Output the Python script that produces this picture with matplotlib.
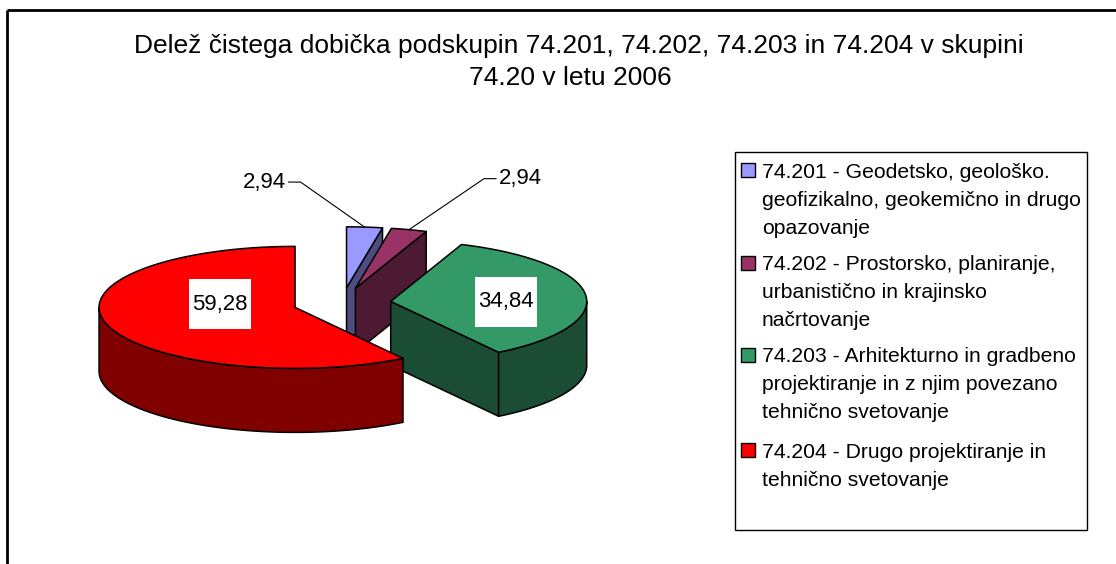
import numpy as np
import matplotlib
matplotlib.use("Agg")
import matplotlib.pyplot as plt
from matplotlib.patches import Polygon, Rectangle
from matplotlib.colors import to_rgb

plt.rcParams['font.family'] = ['Liberation Sans', 'DejaVu Sans']

# ---------------- data ----------------
title_lines = ["Delež čistega dobička podskupin 74.201, 74.202, 74.203 in 74.204 v skupini",
               "74.20 v letu 2006"]
values = [2.94, 2.94, 34.84, 59.28]
value_labels = ["2,94", "2,94", "34,84", "59,28"]
legend_labels = [
    "74.201 - Geodetsko, geološko.\ngeofizikalno, geokemično in drugo\nopazovanje",
    "74.202 - Prostorsko, planiranje,\nurbanistično in krajinsko\nnačrtovanje",
    "74.203 - Arhitekturno in gradbeno\nprojektiranje in z njim povezano\ntehnično svetovanje",
    "74.204 - Drugo projektiranje in\ntehnično svetovanje",
]
colors = ["#9999FF", "#993366", "#339966", "#FF0000"]

# ---------------- layout (pixels) ----------------
W, H = 1116, 564
cx, cy = 342, 303          # pie centre
a, b = 196, 61             # ellipse semi-axes
depth = 64                 # thickness
explode = 0.25
# outside label offsets (elbow relative to rim anchor), None -> inside
outside_offsets = [(-64, -45), (75, -51), None, None]
# inside label placement: (fraction of radius along mid angle, vertical shift)
inside_place = [None, None, (0.59, 4), (0.40, -10)]

fig = plt.figure(figsize=(W / 100, H / 100), dpi=100)
ax = fig.add_axes([0, 0, 1, 1])
ax.set_xlim(0, W)
ax.set_ylim(H, 0)
ax.axis("off")

# chart border (cropped)
ax.plot([7, W], [10, 10], color="black", lw=2, solid_capstyle="butt")
ax.plot([7, 7], [10, H], color="black", lw=2, solid_capstyle="butt")

for (tx, ty), line in zip([(579, 46), (570, 78)], title_lines):
    ax.text(tx, ty, line, ha="center", va="center", fontsize=19)

total = sum(values)
cum = np.concatenate([[0], np.cumsum(values)])
th_start = 90 - 360 * cum[:-1] / total   # larger angle
th_end = 90 - 360 * cum[1:] / total      # smaller angle


def darker(c, f=0.5):
    r, g, bb = to_rgb(c)
    return (r * f, g * f, bb * f)


def rim(xc, yc, th, dz=0.0):
    t = np.radians(th)
    return xc + a * np.cos(t), yc - b * np.sin(t) + dz


slices = []
for i, v in enumerate(values):
    mid = (th_start[i] + th_end[i]) / 2
    m = np.radians(mid)
    xc = cx + explode * a * np.cos(m)
    yc = cy - explode * b * np.sin(m)
    slices.append((i, mid, xc, yc))

# back to front
order = sorted(slices, key=lambda s: -np.sin(np.radians(s[1])))
lw = 1.1
for i, mid, xc, yc in order:
    ts, te = th_start[i], th_end[i]
    col = colors[i]
    side = darker(col)
    # radial walls
    for th, visible in ((ts, np.cos(np.radians(ts)) < -1e-6),
                        (te, np.cos(np.radians(te)) > 1e-6)):
        if visible:
            rx, ry = rim(xc, yc, th)
            poly = [(xc, yc), (rx, ry), (rx, ry + depth), (xc, yc + depth)]
            ax.add_patch(Polygon(poly, closed=True, fc=side, ec="black",
                                 lw=lw, joinstyle="round"))
    # curved outer side (front half only)
    for k in range(-2, 2):
        lo, hi = max(te, k * 360 - 180), min(ts, k * 360)
        if hi > lo:
            th = np.linspace(lo, hi, 200)
            x1, y1 = rim(xc, yc, th)
            pts = list(zip(x1, y1)) + list(zip(x1[::-1], (y1 + depth)[::-1]))
            ax.add_patch(Polygon(pts, closed=True, fc=side, ec="black",
                                 lw=lw, joinstyle="round"))
    # top face
    th = np.linspace(te, ts, 300)
    x1, y1 = rim(xc, yc, th)
    pts = [(xc, yc)] + list(zip(x1, y1))
    ax.add_patch(Polygon(pts, closed=True, fc=col, ec="black", lw=lw,
                         joinstyle="round"))

# value labels
for i, mid, xc, yc in slices:
    m = np.radians(mid)
    off = outside_offsets[i]
    if off is None:
        f, dy = inside_place[i]
        lx = xc + f * a * np.cos(m)
        ly = yc - f * b * np.sin(m) + dy
        ax.add_patch(Rectangle((lx - 31, ly - 25), 62, 50, fc="white",
                               ec="none", zorder=5))
        ax.text(lx, ly, value_labels[i], ha="center", va="center",
                fontsize=16, zorder=6)
    else:
        axx, ayy = rim(xc, yc, mid)
        ex, ey = axx + off[0], ayy + off[1]
        sgn = 1 if off[0] > 0 else -1
        tx = ex + sgn * 12
        ax.plot([axx, ex, tx], [ayy, ey, ey], color="black", lw=0.8,
                zorder=6)
        ax.text(tx + sgn * 3, ey, value_labels[i],
                ha="left" if sgn > 0 else "right", va="center",
                fontsize=16, zorder=6)

# legend
ax.add_patch(Rectangle((735, 152), 352, 378, fc="white", ec="black",
                       lw=1.0, zorder=3))
entry_y = [170, 263, 355, 450]
line_step = 28
for i, lab in enumerate(legend_labels):
    ax.add_patch(Rectangle((741, entry_y[i] - 7), 14, 14, fc=colors[i],
                           ec="black", lw=1.0, zorder=4))
    for k, line in enumerate(lab.split("\n")):
        ax.text(762, entry_y[i] + k * line_step, line, ha="left",
                va="center_baseline", fontsize=15.2, zorder=4)

fig.savefig("out.png", dpi=100)
